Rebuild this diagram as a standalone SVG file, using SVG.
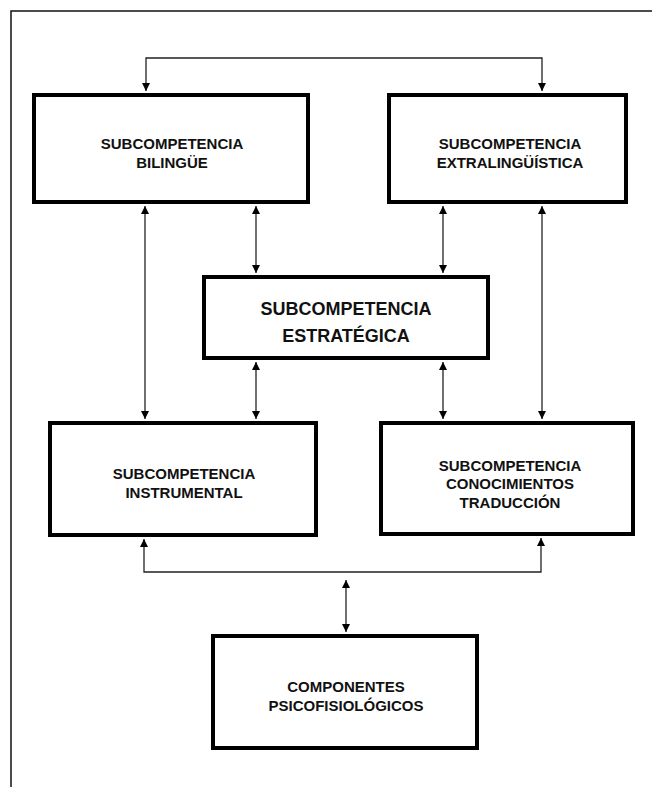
<svg xmlns="http://www.w3.org/2000/svg" width="652" height="787" viewBox="0 0 652 787">
<style>
.box{fill:#fff;stroke:#000;stroke-width:4}
.t{font-family:"Liberation Sans",Arial,sans-serif;font-weight:bold;font-size:15px;fill:#111;text-anchor:middle}
.t2{font-size:18px}
.c{fill:none;stroke:#222;stroke-width:1.3;marker-start:url(#a);marker-end:url(#a)}
.frame{fill:none;stroke:#111;stroke-width:1.5}
</style>
<defs>
<marker id="a" viewBox="0 0 10 10" refX="10" refY="5" markerWidth="8" markerHeight="8" markerUnits="userSpaceOnUse" orient="auto-start-reverse">
<path d="M0,0 L10,5 L0,10 Z" fill="#000"/>
</marker>
</defs>
<rect width="652" height="787" fill="#fff"/>
<path class="frame" d="M11,787 V11 H652"/>
<g id="connectors">
<path class="c" d="M146,91 V58 H542 V91"/>
<path class="c" d="M145,206 V419"/>
<path class="c" d="M256,206 V273"/>
<path class="c" d="M443,206 V273"/>
<path class="c" d="M542,206 V419"/>
<path class="c" d="M256,362 V419"/>
<path class="c" d="M443,362 V419"/>
<path class="c" d="M144,539 V572 H541 V538"/>
<path class="c" d="M346,580 V632"/>
</g>
<g id="bilingue">
<rect class="box" x="34" y="95" width="274" height="107"/>
<text class="t" x="172" y="149">SUBCOMPETENCIA</text>
<text class="t" x="172" y="168">BILINGÜE</text>
</g>
<g id="extralinguistica">
<rect class="box" x="389" y="95" width="237" height="107"/>
<text class="t" x="510" y="149">SUBCOMPETENCIA</text>
<text class="t" x="510" y="168">EXTRALINGÜÍSTICA</text>
</g>
<g id="estrategica">
<rect class="box" x="204" y="277" width="284" height="81"/>
<text class="t t2" x="346" y="315">SUBCOMPETENCIA</text>
<text class="t t2" x="346" y="342">ESTRATÉGICA</text>
</g>
<g id="instrumental">
<rect class="box" x="50" y="423" width="266" height="112"/>
<text class="t" x="184" y="479">SUBCOMPETENCIA</text>
<text class="t" x="184" y="498">INSTRUMENTAL</text>
</g>
<g id="conocimientos">
<rect class="box" x="381" y="423" width="252" height="111"/>
<text class="t" x="510" y="471">SUBCOMPETENCIA</text>
<text class="t" x="510" y="489">CONOCIMIENTOS</text>
<text class="t" x="510" y="508">TRADUCCIÓN</text>
</g>
<g id="componentes">
<rect class="box" x="213" y="636" width="264" height="112"/>
<text class="t" x="346" y="692">COMPONENTES</text>
<text class="t" x="346" y="711">PSICOFISIOLÓGICOS</text>
</g>
</svg>
